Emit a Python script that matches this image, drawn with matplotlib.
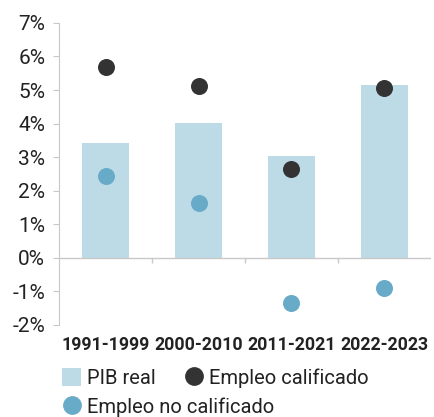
import matplotlib
matplotlib.use("Agg")
import matplotlib.pyplot as plt
import numpy as np
from matplotlib.patches import Patch
from matplotlib.lines import Line2D
from matplotlib.ticker import FuncFormatter

plt.rcParams['font.family'] = ['Roboto', 'DejaVu Sans']

periods = ['1991-1999', '2000-2010', '2011-2021', '2022-2023']
pib_real = [3.43, 4.02, 3.04, 5.15]
empleo_calificado = [5.69, 5.12, 2.65, 5.06]
empleo_no_calificado = [2.44, 1.64, -1.34, -0.89]

bar_color = '#bddbe6'
dark_color = '#333333'
blue_color = '#68abc8'
text_color = '#222222'
axis_color = '#c8c8c8'

fig = plt.figure(figsize=(4.34, 4.17), dpi=100)
ax = fig.add_axes([0.136, 0.221, 0.857, 0.724])

x = np.arange(len(periods))
ax.bar(x, pib_real, width=0.5, color=bar_color, zorder=1)
ax.scatter(x, empleo_calificado, s=150, color=dark_color, zorder=3, linewidths=0)
ax.scatter(x, empleo_no_calificado, s=150, color=blue_color, zorder=3, linewidths=0)

ax.set_xlim(-0.5, 3.5)
ax.set_ylim(-2, 7)
ax.set_yticks(range(-2, 8))
ax.yaxis.set_major_formatter(FuncFormatter(lambda v, p: f'{int(v)}%'))

# zero line with category separators
ax.axhline(0, color=axis_color, lw=1, zorder=2)
ax.vlines([0.5, 1.5, 2.5], -0.15, 0, color=axis_color, lw=1, zorder=2)

for s in ['top', 'right', 'bottom']:
    ax.spines[s].set_visible(False)
ax.spines['left'].set_color(axis_color)

ax.set_xticks(x)
ax.set_xticklabels(periods, fontsize=12.8, fontweight='bold', color=text_color)
ax.tick_params(axis='x', length=0, pad=8)
ax.tick_params(axis='y', length=4, color=axis_color, labelsize=15, labelcolor=text_color, pad=6)

common = dict(frameon=False, fontsize=14.5, handlelength=0.95, handleheight=0.95,
              handletextpad=0.3, columnspacing=1.4, borderpad=0, borderaxespad=0,
              labelcolor=text_color)
leg1 = fig.legend([Patch(facecolor=bar_color, edgecolor='none'),
                   Line2D([], [], marker='o', ls='none', color=dark_color, markersize=12.5)],
                  ['PIB real', 'Empleo calificado'], ncol=2, loc='center left',
                  bbox_to_anchor=(0.143, 0.093), **common)
leg2 = fig.legend([Line2D([], [], marker='o', ls='none', color=blue_color, markersize=12.5)],
                  ['Empleo no calificado'], loc='center left',
                  bbox_to_anchor=(0.143, 0.024), **common)

fig.savefig('out.png', dpi=100)
